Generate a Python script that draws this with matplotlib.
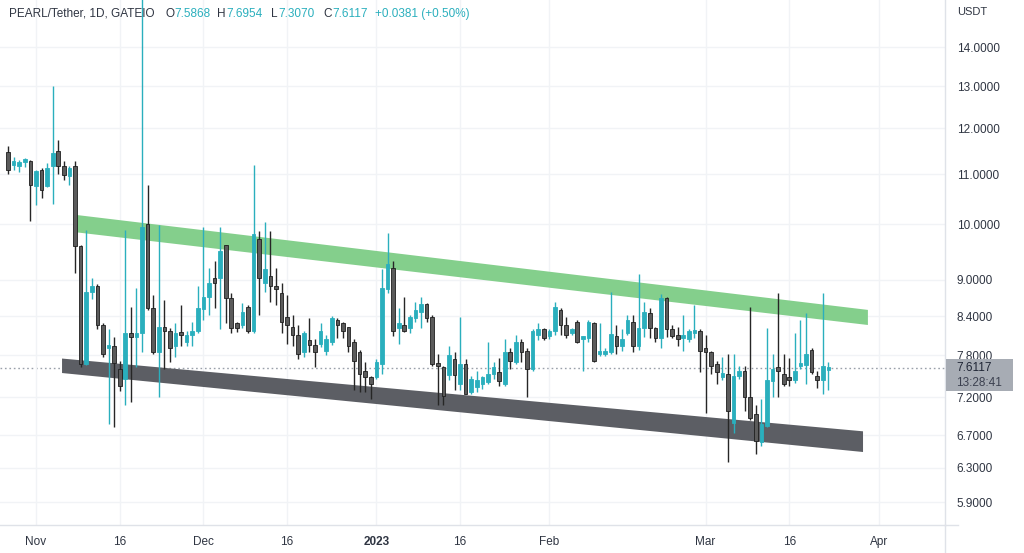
import numpy as np
import pandas as pd
import matplotlib
matplotlib.use('Agg')
import matplotlib.pyplot as plt
import matplotlib.dates as mdates
from matplotlib.patches import Polygon, Rectangle
from matplotlib.lines import Line2D
from matplotlib.ticker import NullLocator, NullFormatter

# Velas diárias PEARL/USDT (27 out 2022 -> 23 mar 2023)
inicio = '2022-10-27'
opens = [11.47, 11.20, 11.18, 11.25, 11.27, 10.76, 11.09, 10.76, 11.17, 11.50,
         11.17, 10.97, 11.17, 9.60, 7.67, 8.79, 8.90, 8.26, 7.90, 7.93,
         7.60, 7.46, 8.13, 8.08, 8.14, 10.00, 8.53, 7.84, 8.23, 8.16,
         7.93, 8.12, 8.00, 8.10, 8.17, 8.51, 8.71, 9.03, 9.03, 9.62,
         8.69, 8.29, 8.26, 8.55, 8.17, 9.73, 8.95, 9.07, 8.90, 8.78,
         8.39, 8.23, 8.11, 7.84, 8.03, 7.95, 7.96, 7.86, 8.00, 8.34,
         8.29, 8.23, 8.00, 7.84, 7.57, 7.49, 7.49, 7.67, 8.84, 9.21,
         8.21, 8.26, 8.21, 8.37, 8.47, 8.60, 8.39, 7.69, 7.63, 7.51,
         7.74, 7.39, 7.67, 7.28, 7.34, 7.39, 7.41, 7.53, 7.55, 7.39,
         7.84, 7.70, 7.99, 7.86, 7.60, 8.11, 8.19, 8.09, 8.16, 8.50,
         8.26, 8.14, 8.31, 8.04, 8.06, 8.29, 7.81, 7.82, 7.85, 8.09,
         7.93, 8.14, 8.31, 7.93, 8.21, 8.45, 8.21, 8.06, 8.69, 8.20,
         8.11, 8.06, 8.04, 8.14, 8.16, 7.90, 7.84, 7.67, 7.49, 7.53,
         6.86, 7.50, 7.57, 7.21, 6.97, 6.61, 6.82, 7.43, 7.63, 7.53,
         7.49, 7.44, 7.64, 7.65, 7.87, 7.50, 7.44, 7.5868]
highs = [11.60, 11.36, 11.30, 11.34, 11.30, 11.09, 11.13, 11.23, 13.00, 11.73,
         11.27, 11.17, 11.27, 9.62, 9.90, 9.03, 8.93, 8.29, 8.19, 8.07,
         7.72, 9.90, 8.55, 8.86, 15.60, 10.78, 8.74, 9.99, 8.66, 8.21,
         8.29, 8.58, 8.17, 8.31, 8.90, 9.95, 9.21, 9.32, 9.95, 9.62,
         8.78, 8.31, 8.61, 8.58, 11.20, 9.87, 10.04, 9.87, 9.21, 8.95,
         8.74, 8.42, 8.26, 8.16, 8.37, 8.04, 8.29, 8.10, 8.40, 8.37,
         8.31, 8.23, 8.04, 7.87, 7.70, 7.50, 7.74, 9.19, 9.84, 9.32,
         8.53, 8.71, 8.42, 8.63, 8.71, 8.61, 8.42, 7.81, 7.64, 7.93,
         7.84, 8.39, 7.74, 7.50, 7.57, 7.50, 7.99, 7.70, 7.76, 8.04,
         7.90, 8.11, 8.04, 7.90, 8.19, 8.29, 8.21, 8.19, 8.63, 8.53,
         8.39, 8.22, 8.34, 8.09, 8.34, 8.31, 8.29, 7.90, 8.79, 8.26,
         8.19, 8.42, 8.42, 9.10, 8.63, 8.53, 8.23, 8.76, 8.71, 8.26,
         8.23, 8.42, 8.20, 8.58, 8.19, 8.11, 7.86, 7.71, 7.78, 7.81,
         7.81, 7.64, 7.64, 8.55, 7.09, 7.18, 8.22, 7.81, 8.77, 7.81,
         7.76, 8.14, 8.34, 8.45, 7.90, 7.57, 8.77, 7.6954]
lows = [11.00, 11.09, 11.05, 11.15, 10.06, 10.37, 10.52, 10.74, 10.39, 11.00,
        10.88, 10.78, 9.12, 7.63, 7.65, 8.68, 8.19, 7.78, 6.84, 6.81,
        7.29, 7.10, 7.14, 7.63, 7.85, 8.50, 7.81, 7.21, 7.60, 7.70,
        7.78, 7.93, 7.93, 7.93, 8.13, 8.34, 8.42, 8.53, 8.19, 8.29,
        8.14, 8.15, 8.21, 8.14, 8.14, 8.42, 8.79, 8.63, 8.58, 8.14,
        7.96, 7.93, 7.74, 7.78, 7.85, 7.63, 7.92, 7.80, 7.95, 8.06,
        8.06, 7.85, 7.30, 7.28, 7.28, 7.18, 7.46, 7.53, 8.78, 8.09,
        7.96, 8.15, 8.14, 8.30, 8.21, 8.30, 7.64, 7.09, 7.09, 7.44,
        7.30, 7.30, 7.24, 7.25, 7.28, 7.32, 7.39, 7.45, 7.35, 7.36,
        7.60, 7.67, 7.70, 7.21, 7.57, 8.03, 8.03, 8.05, 8.11, 8.11,
        8.06, 8.10, 7.98, 7.57, 8.00, 7.70, 7.79, 7.79, 7.82, 7.81,
        7.86, 8.10, 7.84, 7.87, 8.08, 8.06, 7.99, 7.90, 8.08, 8.06,
        7.93, 7.86, 8.00, 8.06, 7.56, 6.99, 7.53, 7.39, 7.44, 6.37,
        6.73, 7.46, 7.02, 6.90, 6.47, 6.57, 6.81, 7.21, 7.21, 7.36,
        7.35, 7.40, 7.60, 7.39, 7.53, 7.33, 7.25, 7.3070]
closes = [11.09, 11.25, 11.24, 11.31, 10.78, 11.07, 10.68, 11.13, 11.46, 11.17,
          10.99, 11.13, 9.59, 7.67, 8.79, 8.90, 8.26, 7.81, 7.95, 7.69,
          7.35, 8.14, 8.08, 8.14, 9.95, 8.53, 7.84, 8.23, 8.16, 7.91,
          8.14, 8.10, 8.11, 8.17, 8.53, 8.71, 8.95, 8.95, 9.50, 8.69,
          8.21, 8.22, 8.47, 8.17, 9.81, 9.03, 9.19, 8.90, 8.85, 8.31,
          8.26, 8.11, 7.81, 8.14, 7.95, 7.84, 8.16, 8.04, 8.37, 8.26,
          8.17, 7.93, 7.72, 7.53, 7.49, 7.39, 7.70, 8.86, 9.27, 8.17,
          8.29, 8.17, 8.39, 8.50, 8.60, 8.37, 7.67, 7.64, 7.22, 7.80,
          7.51, 7.67, 7.25, 7.46, 7.44, 7.49, 7.53, 7.62, 7.43, 7.84,
          7.72, 7.99, 7.84, 7.60, 8.16, 8.19, 8.06, 8.16, 8.55, 8.26,
          8.11, 8.19, 7.99, 8.07, 8.31, 7.72, 7.86, 7.86, 8.12, 7.93,
          8.04, 8.34, 7.93, 8.21, 8.47, 8.21, 8.06, 8.69, 8.20, 8.09,
          8.04, 8.11, 8.16, 8.17, 7.86, 7.84, 7.64, 7.56, 7.53, 7.01,
          7.50, 7.57, 7.21, 6.92, 6.63, 6.84, 7.44, 7.60, 7.57, 7.39,
          7.44, 7.57, 7.69, 7.81, 7.56, 7.44, 7.64, 7.6117]

# Canal desenhado (faixa verde = resistência, faixa cinza = suporte)
canal_datas = ['2022-11-08 04:00', '2023-03-30 02:00']
verde_topo = [10.18, 8.50]
verde_base = [9.85, 8.26]
cinza_datas = ['2022-11-05 16:00', '2023-03-29 05:00']
cinza_topo = [7.75, 6.75]
cinza_base = [7.54, 6.49]

# Eixos
precos_ticks = [14.0, 13.0, 12.0, 11.0, 10.0, 9.0, 8.4, 7.8, 7.2, 6.7, 6.3, 5.9]
datas_ticks = ['2022-11-01', '2022-11-16', '2022-12-01', '2022-12-16', '2023-01-01',
               '2023-01-16', '2023-02-01', '2023-03-01', '2023-03-16', '2023-04-01']
rotulos_x = ['Nov', '16', 'Dec', '16', '2023', '16', 'Feb', 'Mar', '16', 'Apr']

UP = '#2aafbd'
DOWN = '#5b5b5b'
TXT = '#2f3542'

plt.rcParams['font.family'] = ['Liberation Sans', 'DejaVu Sans']

W, H = 1024, 553
fig = plt.figure(figsize=(W / 100, H / 100), dpi=100)
ax = fig.add_axes([0, 28 / H, 945 / W, 1 - 28 / H])

datas = mdates.date2num(pd.date_range(inicio, periods=len(opens), freq='D'))
o = np.array(opens); h = np.array(highs); l = np.array(lows); c = np.array(closes)
sobe = c >= o
cores = np.where(sobe, UP, DOWN)
pavios = np.where(sobe, UP, '#262626')

ax.vlines(datas, l, h, colors=pavios, linewidth=1.0, zorder=3)
base = np.minimum(o, c)
altura = np.maximum(np.abs(c - o), base * 0.006)
ax.bar(datas, altura, bottom=base, width=0.65, color=cores,
       edgecolor=np.where(sobe, UP, '#1e1e1e'), linewidth=0.6, zorder=4)

# faixas do canal
cd = mdates.date2num(pd.to_datetime(canal_datas))
ax.add_patch(Polygon([(cd[0], verde_topo[0]), (cd[1], verde_topo[1]),
                      (cd[1], verde_base[1]), (cd[0], verde_base[0])],
                     closed=True, facecolor='#84cf8c', edgecolor='none', zorder=2))
gd = mdates.date2num(pd.to_datetime(cinza_datas))
ax.add_patch(Polygon([(gd[0], cinza_topo[0]), (gd[1], cinza_topo[1]),
                      (gd[1], cinza_base[1]), (gd[0], cinza_base[0])],
                     closed=True, facecolor='#5c5e64', edgecolor='none', zorder=2))

# linha do preço atual
ax.axhline(closes[-1], color='#9aa0aa', linestyle=(0, (1.2, 2)), linewidth=1, zorder=1)

ax.set_yscale('log')
ax.set_ylim(5.65, 15.31)
nov1 = mdates.date2num(pd.Timestamp('2022-11-01'))
ax.set_xlim(nov1 - 6.45, nov1 + 162.9)

ax.yaxis.tick_right()
ax.yaxis.set_minor_locator(NullLocator())
ax.yaxis.set_minor_formatter(NullFormatter())
ax.set_yticks(precos_ticks)
ax.set_yticklabels([f'{p:.4f}' for p in precos_ticks])
ax.tick_params(axis='y', length=0, pad=8.5, labelsize=8.5, labelcolor=TXT)

xt = mdates.date2num(pd.to_datetime(datas_ticks))
ax.set_xticks(xt)
ax.set_xticklabels(rotulos_x)
for t in ax.get_xticklabels():
    if t.get_text() == '2023':
        t.set_fontweight('bold')
ax.tick_params(axis='x', length=0, pad=8, labelsize=8.5, labelcolor=TXT)

ax.grid(True, color='#f1f3f6', linewidth=1, zorder=0)
for s in ['top', 'left']:
    ax.spines[s].set_visible(False)
for s in ['right', 'bottom']:
    ax.spines[s].set_color('#dfe2e8')
    ax.spines[s].set_linewidth(1)

# separadores do painel de escala
fig.lines.append(Line2D([945 / W, 945 / W], [0, 28 / H], transform=fig.transFigure,
                        color='#dfe2e8', linewidth=1))
fig.lines.append(Line2D([945 / W, 958 / W], [28 / H, 28 / H], transform=fig.transFigure,
                        color='#dfe2e8', linewidth=1))

# cabeçalho
def px(x, y):
    return x / W, 1 - y / H

fs = 8.5
fig.text(*px(9, 14), 'PEARL/Tether, 1D, GATEIO', fontsize=fs, color=TXT, va='center')
for letra, xl, valor, xv in [('O', 165, '7.5868', 174), ('H', 217, '7.6954', 226),
                             ('L', 271, '7.3070', 278), ('C', 323, '7.6117', 332)]:
    fig.text(*px(xl, 14), letra, fontsize=fs, color=TXT, va='center')
    fig.text(*px(xv, 14), valor, fontsize=fs, color=UP, va='center')
fig.text(*px(375, 14), '+0.0381 (+0.50%)', fontsize=fs, color=UP, va='center')

fig.text(*px(957, 12), 'USDT', fontsize=8, color=TXT, va='center')

# etiqueta do preço atual
fig.patches.append(Rectangle(px(946, 391), 67 / W, 32 / H, transform=fig.transFigure,
                             facecolor='#a7acb4', edgecolor='none', zorder=5))
fig.text(*px(956, 368), '7.6117', fontsize=8.5, color='#1f2535', va='center', zorder=6)
fig.text(*px(956, 383), '13:28:41', fontsize=8.5, color='#3c4150', va='center', zorder=6)

fig.savefig('out.png', dpi=100)
